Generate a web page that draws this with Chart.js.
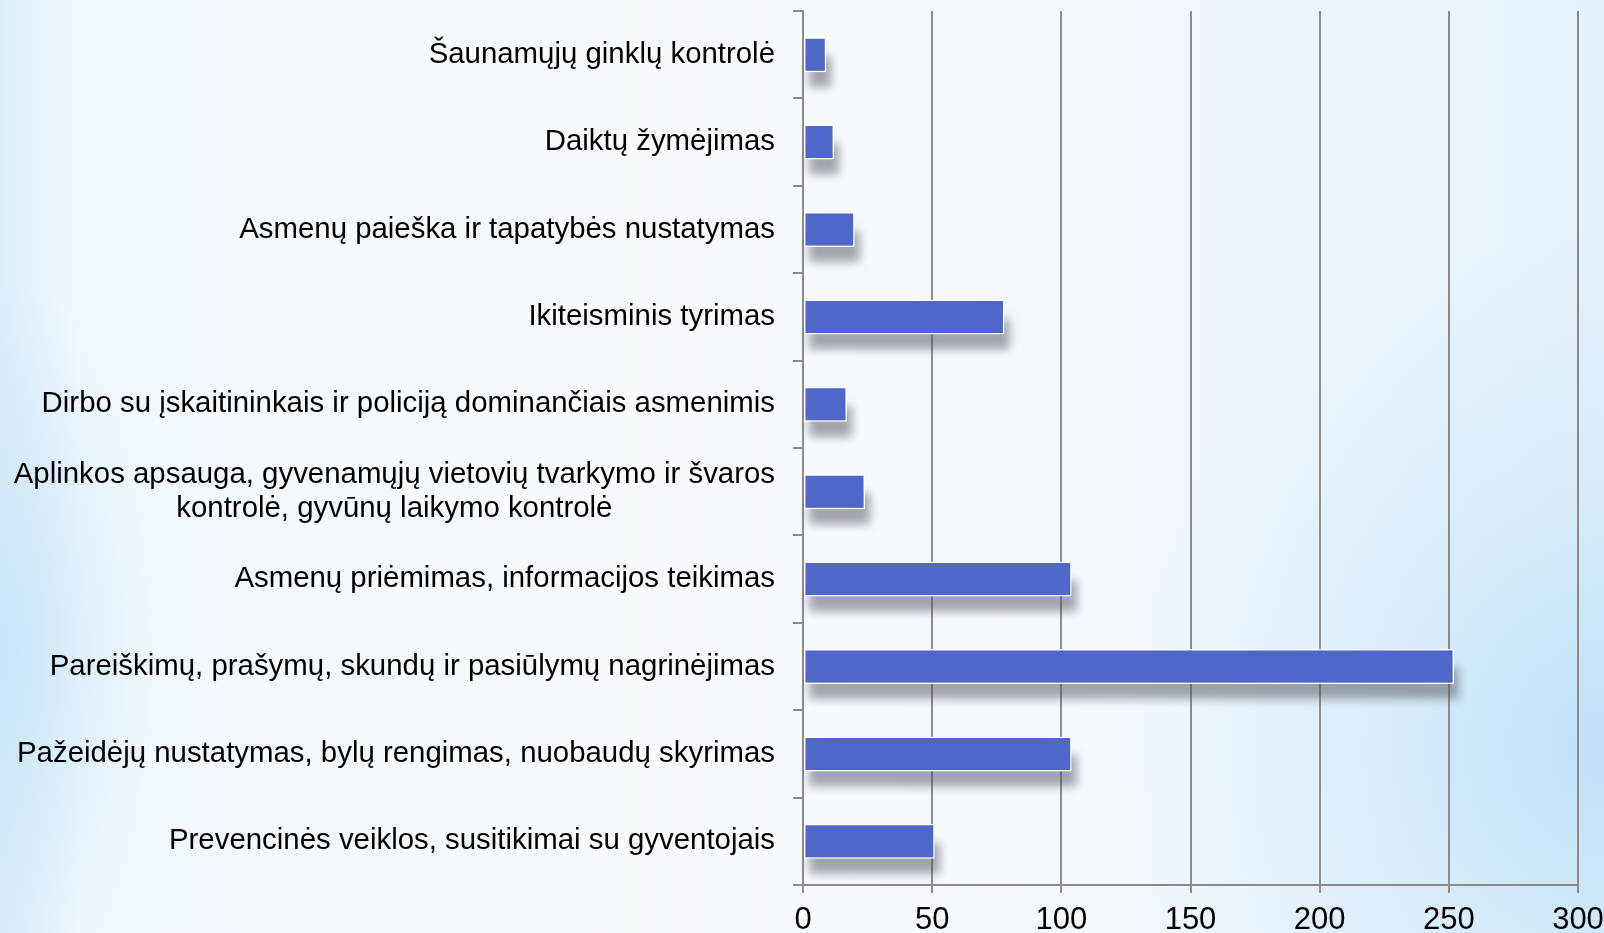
<!DOCTYPE html>
<html>
<head>
<meta charset="utf-8">
<script src="https://cdn.jsdelivr.net/npm/chart.js@4"></script>
<style>
  html, body { margin: 0; padding: 0; overflow: hidden; }
  body {
    width: 1604px; height: 933px;
    background:
      radial-gradient(ellipse 30% 55% at 100% 80%, rgba(190,224,247,0.95) 0%, rgba(205,231,249,0.6) 45%, rgba(230,242,252,0) 100%),
      radial-gradient(ellipse 10% 40% at 0% 70%, rgba(200,228,248,0.9) 0%, rgba(220,238,251,0) 100%),
      linear-gradient(to right, #dcedfa 0%, #f1f8fd 5%, #f7fbfe 40%, #f3f8fd 70%, #e4f1fb 100%);
  }
  .chart-box { position: relative; width: 1604px; height: 933px; }
</style>
</head>
<body>
<div class="chart-box"><canvas id="chart"></canvas></div>
<script>
const categories = [
  'Šaunamųjų ginklų kontrolė',
  'Daiktų žymėjimas',
  'Asmenų paieška ir tapatybės nustatymas',
  'Ikiteisminis tyrimas',
  'Dirbo su įskaitininkais ir policiją dominančiais asmenimis',
  ['Aplinkos apsauga, gyvenamųjų vietovių tvarkymo ir švaros', 'kontrolė, gyvūnų laikymo kontrolė'],
  'Asmenų priėmimas, informacijos teikimas',
  'Pareiškimų, prašymų, skundų ir pasiūlymų nagrinėjimas',
  'Pažeidėjų nustatymas, bylų rengimas, nuobaudų skyrimas',
  'Prevencinės veiklos, susitikimai su gyventojais'
];
const values = [9, 12, 20, 78, 17, 24, 104, 252, 104, 51];
const xMin = 0;
const xMax = 300;
const xStep = 50;

const gridGrey = '#8c8c8c';
const labelFont = '29.4px "Liberation Sans", Arial, sans-serif';

// soft grey drop shadow under each bar
const barShadow = {
  id: 'barShadow',
  beforeDatasetsDraw(chart) {
    const ctx = chart.ctx;
    const meta = chart.getDatasetMeta(0);
    ctx.save();
    ctx.filter = 'blur(5px)';
    ctx.fillStyle = 'rgba(80,84,92,0.5)';
    meta.data.forEach(bar => {
      const top = bar.y - bar.height / 2;
      ctx.fillRect(bar.base + 5, top + 19, bar.x - bar.base, bar.height - 4);
    });
    ctx.restore();
  }
};

// category labels: right aligned block, lines centred inside it
const catLabels = {
  id: 'catLabels',
  afterDraw(chart) {
    const ctx = chart.ctx;
    const yScale = chart.scales.y;
    const right = chart.chartArea.left - 10 - 18;
    const lh = 34;
    ctx.save();
    ctx.font = labelFont;
    ctx.fillStyle = '#000';
    ctx.textBaseline = 'middle';
    categories.forEach((lab, i) => {
      const lines = Array.isArray(lab) ? lab : [lab];
      const yc = yScale.getPixelForValue(i);
      const w = Math.max(...lines.map(l => ctx.measureText(l).width));
      lines.forEach((l, j) => {
        const y = yc - (lines.length - 1) * lh / 2 + j * lh;
        if (lines.length > 1) {
          ctx.textAlign = 'center';
          ctx.fillText(l, right - w / 2, y);
        } else {
          ctx.textAlign = 'right';
          ctx.fillText(l, right, y);
        }
      });
    });
    ctx.restore();
  }
};

new Chart(document.getElementById('chart'), {
  type: 'bar',
  data: {
    labels: categories,
    datasets: [{
      data: values,
      backgroundColor: '#4f67c8',
      borderColor: '#ffffff',
      borderWidth: 1.5,
      borderSkipped: false,
      barPercentage: 0.4,
      categoryPercentage: 1
    }]
  },
  options: {
    indexAxis: 'y',
    responsive: true,
    maintainAspectRatio: false,
    animation: false,
    layout: { padding: { top: 11, right: 26, left: 0, bottom: 0 } },
    plugins: {
      legend: { display: false },
      tooltip: { enabled: false }
    },
    scales: {
      x: {
        min: xMin,
        max: xMax,
        afterFit: s => { s.height = 48; s.paddingRight = 0; s.paddingLeft = 0; },
        grid: { color: gridGrey, lineWidth: 2, tickLength: 8 },
        border: { color: gridGrey, width: 2 },
        ticks: {
          stepSize: xStep,
          padding: 9,
          color: '#000',
          font: { family: '"Liberation Sans Narrow", "Liberation Sans", sans-serif', size: 31 }
        }
      },
      y: {
        afterFit: s => { s.width = 803; },
        grid: { display: true, drawOnChartArea: false, offset: true, color: gridGrey, lineWidth: 2, tickLength: 10 },
        border: { color: gridGrey, width: 2 },
        ticks: { display: false }
      }
    }
  },
  plugins: [barShadow, catLabels]
});
</script>
</body>
</html>
